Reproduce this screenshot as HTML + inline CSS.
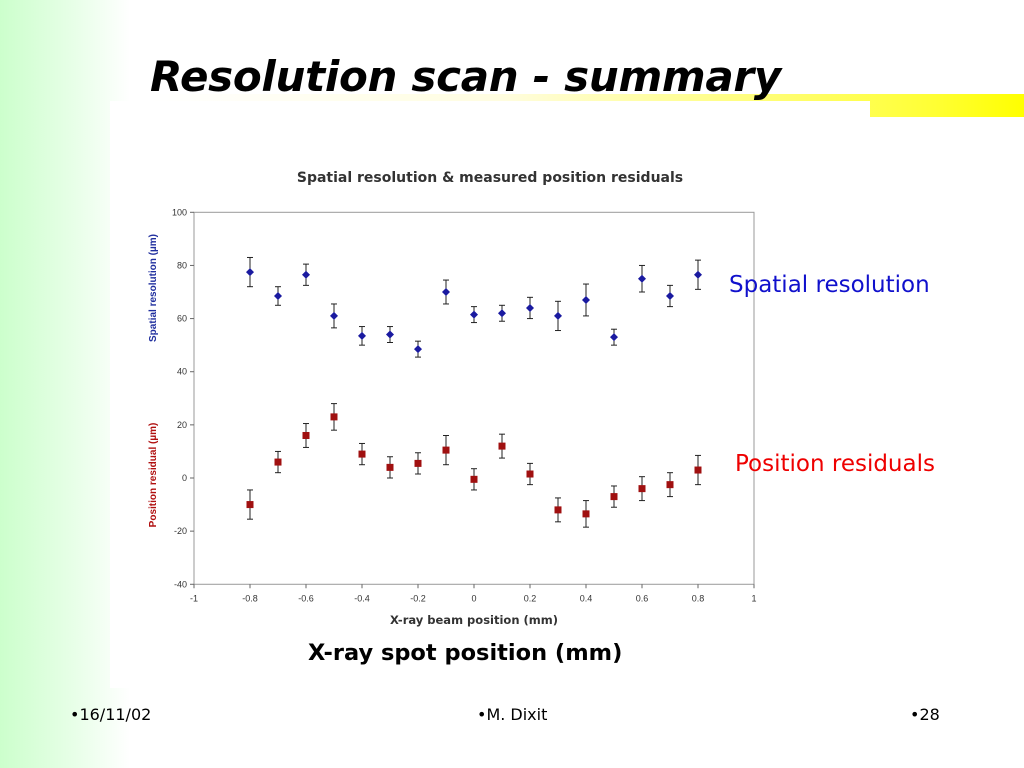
<!DOCTYPE html>
<html><head><meta charset="utf-8"><style>
body{margin:0;width:1024px;height:768px;overflow:hidden;font-family:"Liberation Sans",sans-serif;
background:linear-gradient(to right,#ccffcc 0px,#e6ffe6 70px,#ffffff 130px);position:relative}
.abs{position:absolute}
</style></head><body>
<div class="abs" style="left:150px;top:94px;width:874px;height:23px;background:linear-gradient(to right,#fff 0%,#fffde0 40%,#ffff33 90%,#ffff00 100%)"></div>
<div class="abs" style="left:150px;top:52px;font-family:'DejaVu Sans',sans-serif;font-style:italic;font-weight:bold;font-size:42px;letter-spacing:-0.3px;color:#000">Resolution scan - summary</div>
<div class="abs" style="left:110px;top:101px;width:760px;height:587px;background:#fff"></div>
<svg class="abs" style="left:0;top:0" width="1024" height="768">
<text x="490" y="182" text-anchor="middle" font-size="14" font-family="DejaVu Sans" font-weight="bold" fill="#333">Spatial resolution &amp; measured position residuals</text>
<g id="axes"></g><g id="marks"></g>
<text transform="translate(156,288) rotate(-90)" text-anchor="middle" font-size="10" font-weight="bold" fill="#1f2e9e">Spatial resolution (µm)</text>
<text transform="translate(156,475) rotate(-90)" text-anchor="middle" font-size="10" font-weight="bold" fill="#b01010">Position residual (µm)</text>
<text x="474" y="624" text-anchor="middle" font-size="11.5" font-family="DejaVu Sans" font-weight="bold" fill="#333">X-ray beam position (mm)</text>
</svg>
<div class="abs" style="left:729px;top:272px;font-size:23px;font-family:'DejaVu Sans',sans-serif;color:#1010cc">Spatial resolution</div>
<div class="abs" style="left:735px;top:451px;font-size:23px;font-family:'DejaVu Sans',sans-serif;color:#ee0000">Position residuals</div>
<div class="abs" style="left:308px;top:640px;font-size:22.5px;font-weight:bold;font-family:'DejaVu Sans',sans-serif;color:#000">X-ray spot position (mm)</div>
<div class="abs" style="left:70px;top:705px;font-size:16px;font-family:'DejaVu Sans',sans-serif">•16/11/02</div>
<div class="abs" style="left:477px;top:705px;font-size:16px;font-family:'DejaVu Sans',sans-serif">•M. Dixit</div>
<div class="abs" style="left:910px;top:705px;font-size:16px;font-family:'DejaVu Sans',sans-serif">•28</div>
<script>
const xs=[-0.8,-0.7,-0.6,-0.5,-0.4,-0.3,-0.2,-0.1,0,0.1,0.2,0.3,0.4,0.5,0.6,0.7,0.8];
const resVals=[77.5,68.5,76.5,61,53.5,54,48.5,70,61.5,62,64,61,67,53,75,68.5,76.5];
const resErr=[5.5,3.5,4,4.5,3.5,3,3,4.5,3,3,4,5.5,6,3,5,4,5.5];
const residVals=[-10,6,16,23,9,4,5.5,10.5,-0.5,12,1.5,-12,-13.5,-7,-4,-2.5,3];
const residErr=[5.5,4,4.5,5,4,4,4,5.5,4,4.5,4,4.5,5,4,4.5,4.5,5.5];
const xTicks=[-1,-0.8,-0.6,-0.4,-0.2,0,0.2,0.4,0.6,0.8,1];
const yTicks=[-40,-20,0,20,40,60,80,100];
const X=v=>474+v*280, Y=v=>478-v*2.657;
const NS='http://www.w3.org/2000/svg';
function mk(t,a,p){const e=document.createElementNS(NS,t);for(const k in a)e.setAttribute(k,a[k]);p.appendChild(e);return e;}
const ax=document.getElementById('axes'),mg=document.getElementById('marks');
const frame=mk('rect',{x:X(-1),y:Y(100),width:X(1)-X(-1),height:Y(-40)-Y(100),fill:'none',stroke:'#999','stroke-width':1},ax);


xTicks.forEach(t=>{
 mk('line',{x1:X(t),x2:X(t),y1:Y(-40),y2:Y(-40)+4,stroke:'#666'},ax);
 const tx=mk('text',{x:X(t),y:Y(-40)+17,'text-anchor':'middle','font-size':9,fill:'#333'},ax);
 tx.textContent=String(t);
 
 
});
yTicks.forEach(t=>{
 mk('line',{x1:X(-1)-4,x2:X(-1),y1:Y(t),y2:Y(t),stroke:'#666'},ax);
 const tx=mk('text',{x:X(-1)-7,y:Y(t)+3,'text-anchor':'end','font-size':9,fill:'#333'},ax);
 tx.textContent=String(t);
 
 
});
function series(vals,errs,col,shape,name){
 xs.forEach((x,i)=>{
  const cx=X(x),hi=Y(vals[i]+errs[i]),lo=Y(vals[i]-errs[i]);
  mk('line',{x1:cx,x2:cx,y1:hi,y2:lo,stroke:'#222','stroke-width':1},mg);
  mk('line',{x1:cx-3,x2:cx+3,y1:hi,y2:hi,stroke:'#222'},mg);
  mk('line',{x1:cx-3,x2:cx+3,y1:lo,y2:lo,stroke:'#222'},mg);
  const cy=Y(vals[i]);let m;
  if(shape==='d')m=mk('polygon',{points:`${cx},${cy-4} ${cx+4},${cy} ${cx},${cy+4} ${cx-4},${cy}`,fill:col},mg);
  else m=mk('rect',{x:cx-3.5,y:cy-3.5,width:7,height:7,fill:col},mg);
  
  
 });
}
series(resVals,resErr,'#1a1aa0','d','resolution-point');
series(residVals,residErr,'#a01010','s','residual-point');
</script>
</body></html>
